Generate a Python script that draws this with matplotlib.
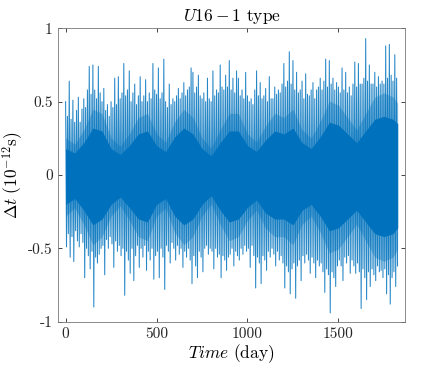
import numpy as np
import matplotlib
matplotlib.use('Agg')
import matplotlib.pyplot as plt

# Signal peaks: upper peaks every 10 days from day 0,
# lower peaks every 10 days from day 5 (10^-12 s)
upper_peaks = [
    0.50, 0.40, 0.64, 0.38, 0.51, 0.36, 0.44, 0.53, 0.36, 0.45,
    0.52, 0.46, 0.58, 0.74, 0.55, 0.75, 0.58, 0.52, 0.74, 0.56,
    0.50, 0.59, 0.44, 0.48, 0.40, 0.50, 0.46, 0.66, 0.48, 0.67,
    0.52, 0.56, 0.76, 0.54, 0.58, 0.71, 0.50, 0.56, 0.62, 0.48,
    0.54, 0.67, 0.50, 0.54, 0.65, 0.50, 0.56, 0.52, 0.76, 0.58,
    0.55, 0.73, 0.52, 0.56, 0.79, 0.50, 0.46, 0.62, 0.48, 0.52,
    0.50, 0.54, 0.59, 0.52, 0.56, 0.63, 0.54, 0.58, 0.60, 0.73,
    0.70, 0.56, 0.60, 0.68, 0.54, 0.52, 0.56, 0.50, 0.66, 0.52,
    0.50, 0.71, 0.54, 0.58, 0.56, 0.75, 0.60, 0.58, 0.68, 0.60,
    0.78, 0.58, 0.66, 0.56, 0.71, 0.66, 0.54, 0.58, 0.52, 0.70,
    0.54, 0.50, 0.52, 0.48, 0.58, 0.71, 0.54, 0.63, 0.52, 0.54,
    0.59, 0.50, 0.67, 0.52, 0.52, 0.60, 0.55, 0.58, 0.56, 0.62,
    0.76, 0.60, 0.64, 0.84, 0.62, 0.78, 0.58, 0.70, 0.56, 0.58,
    0.64, 0.52, 0.69, 0.55, 0.54, 0.58, 0.63, 0.52, 0.58, 0.60,
    0.66, 0.58, 0.64, 0.79, 0.60, 0.78, 0.62, 0.66, 0.58, 0.63,
    0.60, 0.56, 0.73, 0.58, 0.70, 0.56, 0.60, 0.54, 0.62, 0.77,
    0.60, 0.76, 0.62, 0.62, 0.66, 0.93, 0.64, 0.75, 0.62, 0.62,
    0.70, 0.60, 0.67, 0.62, 0.64, 0.62, 0.88, 0.66, 0.89, 0.68,
    0.64, 0.82, 0.66,
]
lower_peaks = [
    -0.49, -0.40, -0.56, -0.42, -0.59, -0.38, -0.45, -0.49, -0.40, -0.46,
    -0.70, -0.50, -0.55, -0.64, -0.52, -0.90, -0.56, -0.60, -0.54, -0.50,
    -0.48, -0.68, -0.44, -0.50, -0.42, -0.47, -0.63, -0.45, -0.52, -0.48,
    -0.55, -0.50, -0.82, -0.52, -0.58, -0.67, -0.50, -0.72, -0.55, -0.48,
    -0.63, -0.50, -0.56, -0.48, -0.65, -0.52, -0.58, -0.50, -0.71, -0.55,
    -0.52, -0.70, -0.50, -0.56, -0.78, -0.48, -0.52, -0.60, -0.46, -0.50,
    -0.58, -0.48, -0.54, -0.50, -0.63, -0.52, -0.56, -0.50, -0.58, -0.74,
    -0.55, -0.62, -0.70, -0.52, -0.56, -0.66, -0.50, -0.48, -0.54, -0.50,
    -0.52, -0.64, -0.50, -0.56, -0.54, -0.70, -0.55, -0.58, -0.65, -0.56,
    -0.54, -0.50, -0.62, -0.52, -0.55, -0.58, -0.50, -0.54, -0.48, -0.52,
    -0.50, -0.63, -0.48, -0.55, -0.77, -0.56, -0.60, -0.74, -0.55, -0.58,
    -0.65, -0.52, -0.56, -0.50, -0.54, -0.62, -0.52, -0.58, -0.55, -0.60,
    -0.77, -0.62, -0.66, -0.81, -0.64, -0.60, -0.84, -0.62, -0.58, -0.72,
    -0.55, -0.60, -0.54, -0.58, -0.67, -0.56, -0.60, -0.70, -0.58, -0.62,
    -0.60, -0.66, -0.80, -0.64, -0.68, -0.94, -0.66, -0.70, -0.76, -0.62,
    -0.58, -0.62, -0.72, -0.56, -0.60, -0.55, -0.67, -0.58, -0.62, -0.67,
    -0.60, -0.66, -0.91, -0.64, -0.70, -0.85, -0.66, -0.76, -0.64, -0.68,
    -0.72, -0.62, -0.66, -0.65, -0.70, -0.64, -0.81, -0.68, -0.88, -0.70,
    -0.66, -0.76, -0.62,
]

# Dense core of the signal, half-widths read every 50 days (last at day 1826)
core_days = list(range(0, 1801, 50)) + [1826]
core_upper = [0.18, 0.15, 0.22, 0.32, 0.30, 0.18, 0.14, 0.20, 0.28, 0.30,
              0.20, 0.16, 0.26, 0.32, 0.28, 0.18, 0.13, 0.22, 0.30, 0.30,
              0.20, 0.16, 0.24, 0.30, 0.28, 0.32, 0.22, 0.18, 0.26, 0.36,
              0.34, 0.28, 0.22, 0.30, 0.38, 0.40, 0.38, 0.35]
core_lower = [-0.20, -0.16, -0.24, -0.34, -0.30, -0.20, -0.15, -0.22, -0.30, -0.32,
              -0.20, -0.16, -0.28, -0.34, -0.30, -0.20, -0.14, -0.24, -0.32, -0.30,
              -0.22, -0.17, -0.26, -0.30, -0.30, -0.34, -0.24, -0.20, -0.28, -0.38,
              -0.36, -0.30, -0.24, -0.32, -0.40, -0.42, -0.40, -0.36]

# Interleave the peaks into one time series
days = []
dt = []
for i in range(len(upper_peaks)):
    days.append(10 * i)
    dt.append(upper_peaks[i])
    days.append(10 * i + 5)
    dt.append(lower_peaks[i])

plt.rcParams['mathtext.fontset'] = 'cm'
plt.rcParams['font.family'] = 'serif'
plt.rcParams['font.serif'] = ['cmr10', 'DejaVu Serif']
plt.rcParams['axes.formatter.use_mathtext'] = True

color = '#0072BD'

fig = plt.figure(figsize=(4.47, 3.71), dpi=100)
ax = fig.add_axes([0.1305, 0.1329, 0.7755, 0.7908])

# soft halo around the dense core, then the core itself
halo_up = [v * 1.4 for v in core_upper]
halo_lo = [v * 1.4 for v in core_lower]
ax.fill_between(core_days, halo_lo, halo_up, color=color, alpha=0.35, linewidth=0)
ax.fill_between(core_days, core_lower, core_upper, color=color, linewidth=0)
ax.plot(days, dt, color=color, linewidth=0.75, alpha=0.85)

ax.set_xlim(-40, 1866)
ax.set_ylim(-1, 1)
ax.set_xticks([0, 500, 1000, 1500])
ax.set_xticklabels(['0', '500', '1000', '1500'])
ax.set_yticks([-1, -0.5, 0, 0.5, 1])
ax.set_yticklabels(['-1', '-0.5', '0', '0.5', '1'])
ax.tick_params(direction='in', length=3, width=0.6, top=True, right=True,
               labelsize=11, colors='#262626', pad=4)
for s in ax.spines.values():
    s.set_linewidth(0.6)
    s.set_color('#777777')

ax.set_title(r'$U16-1$ type', fontsize=12.5, pad=5)
ax.set_xlabel(r'$Time$ (day)', fontsize=12.5, labelpad=1)
ax.set_ylabel(r'$\Delta t\ (10^{-12}\mathrm{s})$', fontsize=12.5, labelpad=2)

plt.savefig('out.png', dpi=100)
